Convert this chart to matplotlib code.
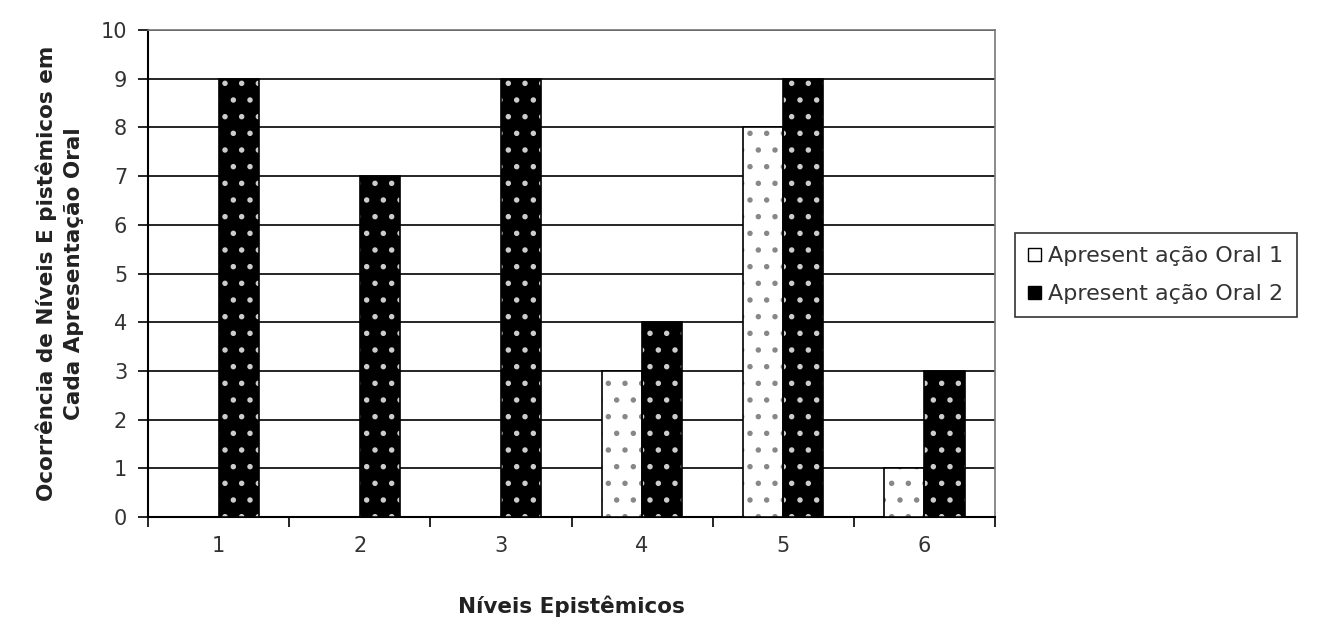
import numpy as np
import matplotlib.pyplot as plt
from matplotlib.patches import Patch

plt.rcParams['font.family'] = ['DejaVu Sans']
plt.rcParams['hatch.linewidth'] = 1.5

niveis = ['1', '2', '3', '4', '5', '6']
oral1 = [0, 0, 0, 3, 8, 1]
oral2 = [9, 7, 9, 4, 9, 3]
series_names = ['Apresent ação Oral 1', 'Apresent ação Oral 2']

fig = plt.figure(figsize=(13.19, 6.22), dpi=100)
ax = fig.add_axes([148 / 1319, 1 - 517 / 622, (995 - 148) / 1319, (517 - 30) / 622])

x = np.arange(len(niveis))
w = 0.285

# series 1: white with grey dots
ax.bar(x - w / 2, oral1, w, color='white', edgecolor='#888888', hatch='.', linewidth=0, zorder=3)
ax.bar(x - w / 2, oral1, w, fill=False, edgecolor='black', linewidth=1.2, zorder=4)
# series 2: black with white dots
ax.bar(x + w / 2, oral2, w, color='black', edgecolor='#cccccc', hatch='.', linewidth=0, zorder=3)
ax.bar(x + w / 2, oral2, w, fill=False, edgecolor='black', linewidth=1.2, zorder=4)

ax.set_xlim(-0.5, len(niveis) - 0.5)
ax.set_ylim(0, 10)
ax.set_yticks(range(0, 11))
ax.set_xticks(x)
ax.set_xticklabels(niveis)
ax.set_xticks(np.arange(-0.5, len(niveis)), minor=True)
ax.tick_params(axis='x', which='major', length=0, pad=14, labelsize=15, labelcolor='#333333')
ax.tick_params(axis='x', which='minor', length=7, direction='out', width=1.2)
ax.tick_params(axis='y', length=7, direction='out', width=1.2, labelsize=15, pad=8, labelcolor='#333333')
ax.yaxis.grid(True, color='black', linewidth=1.2, zorder=0)
ax.set_axisbelow(True)

for s in ['top', 'right']:
    ax.spines[s].set_color('#777777')
    ax.spines[s].set_linewidth(1.2)
for s in ['left', 'bottom']:
    ax.spines[s].set_color('black')
    ax.spines[s].set_linewidth(1.5)

ax.set_ylabel('Ocorrência de Níveis E pistêmicos em\nCada Apresentação Oral',
              fontsize=15.5, fontweight='bold', color='#222222', labelpad=12, linespacing=1.45)
ax.set_xlabel('Níveis Epistêmicos', fontsize=15.5, fontweight='bold', color='#222222', labelpad=28)

handles = [Patch(facecolor='white', edgecolor='black'),
           Patch(facecolor='black', edgecolor='black')]
leg = fig.legend(handles, series_names, loc='upper left', bbox_to_anchor=(1015 / 1319, 1 - 233 / 622),
                 fontsize=16, frameon=True, fancybox=False, edgecolor='black',
                 handlelength=0.55, handleheight=0.55, handletextpad=0.35, borderpad=0.6,
                 labelspacing=0.8, borderaxespad=0)
leg.get_frame().set_linewidth(1.2)
for t in leg.get_texts():
    t.set_color('#333333')

fig.savefig('out.png', dpi=100)
